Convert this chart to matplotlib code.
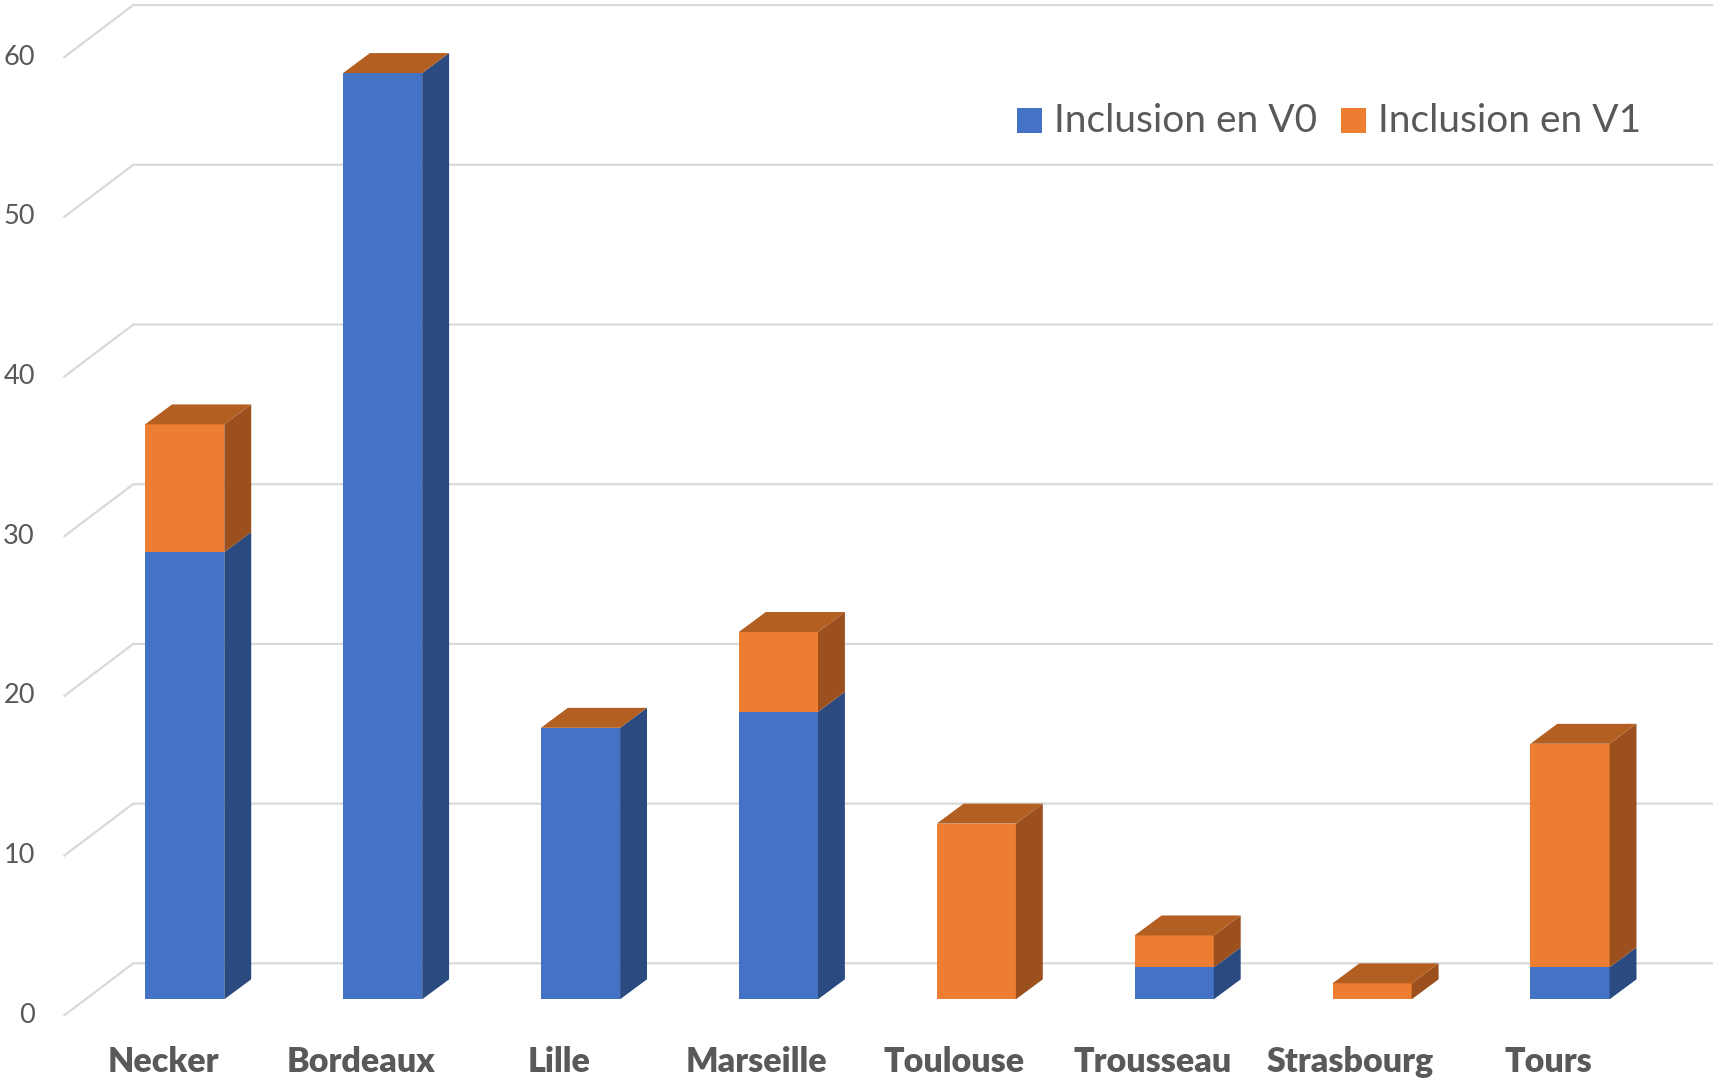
import numpy as np
import matplotlib.pyplot as plt
from matplotlib.patches import Polygon, Rectangle

categories = ["Necker", "Bordeaux", "Lille", "Marseille", "Toulouse",
              "Trousseau", "Strasbourg", "Tours"]
inclusion_v0 = [28, 58, 17, 18, 0, 2, 0, 2]
inclusion_v1 = [8, 0, 0, 5, 11, 2, 1, 14]
y_ticks = [0, 10, 20, 30, 40, 50, 60]
series_names = ["Inclusion en V0", "Inclusion en V1"]

plt.rcParams['font.family'] = ['Lato', 'DejaVu Sans']

FRONT = ['#4472C4', '#ED7D31']
SIDE = ['#2B4A80', '#9B501E']
TOP = ['#35599A', '#B45F22']
TEXT = '#595959'
GRID = '#D9D9D9'

W, H = 1713, 1081
fig = plt.figure(figsize=(W / 100, H / 100), dpi=100)
ax = fig.add_axes([0, 0, 1, 1])
ax.set_xlim(-0.9333, 7.7226)
ax.set_ylim(-5.116, 62.574)
ax.axis('off')

# pseudo-3D geometry (category units / value units)
bar_w = 0.40
dx, dy = 0.136, 1.25
wall_x0, wall_x1 = -0.608, -0.260
floor_dy, wall_dy = -1.0, 2.254

# back wall gridlines + left floor diagonals
for t in y_ticks:
    ax.plot([wall_x0, wall_x1, 8.0], [t + floor_dy, t + wall_dy, t + wall_dy],
            color=GRID, lw=1.6, zorder=0, solid_joinstyle='miter')
    ax.text(-0.757, t + floor_dy, str(t), ha='right', va='center',
            fontsize=19.5, color=TEXT)

x = np.arange(len(categories))
v0 = np.array(inclusion_v0)
v1 = np.array(inclusion_v1)

segments = [(np.zeros_like(v0), v0), (v0, v1)]
for k, (bottom, height) in enumerate(segments):
    ax.bar(x, height, bar_w, bottom=bottom, color=FRONT[k], zorder=2,
           linewidth=0)
    for xi, b, h in zip(x, bottom, height):
        if h <= 0:
            continue
        r = xi + bar_w / 2
        ax.add_patch(Polygon([(r, b), (r + dx, b + dy), (r + dx, b + h + dy),
                              (r, b + h)], closed=True, facecolor=SIDE[k],
                             edgecolor='none', zorder=2))

# top faces (topmost series colour, as Excel does)
totals = v0 + v1
for xi, tot in zip(x, totals):
    l, r = xi - bar_w / 2, xi + bar_w / 2
    ax.add_patch(Polygon([(l, tot), (r, tot), (r + dx, tot + dy),
                          (l + dx, tot + dy)], closed=True, facecolor=TOP[1],
                         edgecolor='none', zorder=2))

for xi, name in zip(x, categories):
    ax.text(xi - 0.11, -3.93, name, ha='center', va='center', fontsize=24.5,
            fontweight='heavy', color=TEXT)

# legend
leg_y = 1 - 121 / H
sq = 25
for px, name, c in zip([1016.5, 1340.5], series_names, FRONT):
    fig.patches.append(Rectangle((px / W, leg_y - sq / 2 / H), sq / W, sq / H,
                                 transform=fig.transFigure, facecolor=c,
                                 edgecolor='none'))
    fig.text((px + sq + 12) / W, leg_y, name, ha='left', va='center',
             fontsize=28, color=TEXT)

fig.savefig("out.png", dpi=100)
